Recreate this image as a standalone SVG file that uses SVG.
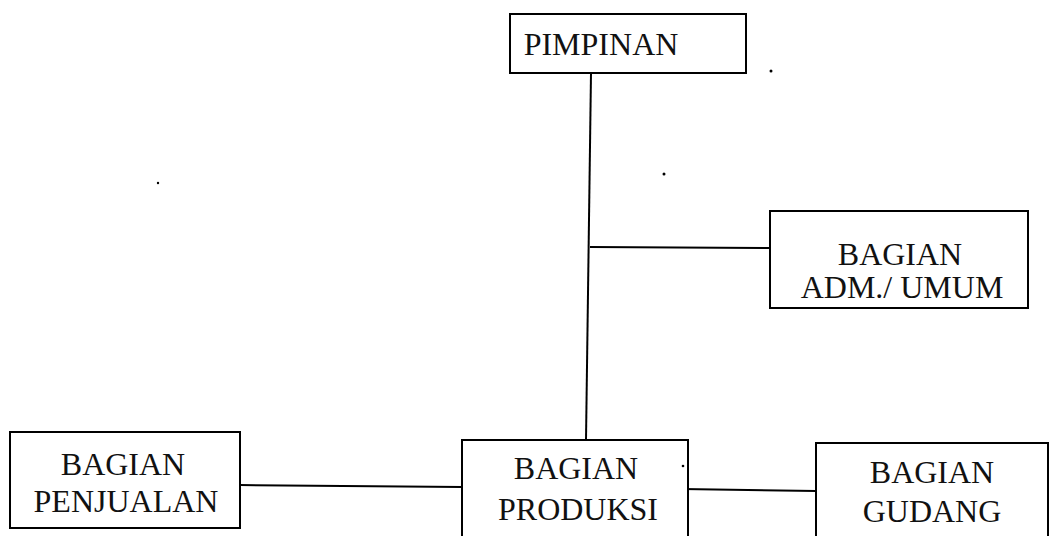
<svg xmlns="http://www.w3.org/2000/svg" width="1049" height="536" viewBox="0 0 1049 536">
<style>
.box{fill:#fff;stroke:#000;stroke-width:2}
.ln{stroke:#000;stroke-width:2;fill:none}
text{font-family:"Liberation Serif","Times New Roman",serif;font-size:32px;fill:#111;text-anchor:middle}
</style>
<rect width="1049" height="536" fill="#fff"/>
<g id="connectors">
<line class="ln" x1="591" y1="73" x2="586" y2="440"/>
<line class="ln" x1="590" y1="247" x2="770" y2="248"/>
<line class="ln" x1="240" y1="485" x2="462" y2="487"/>
<line class="ln" x1="682" y1="489" x2="816" y2="491"/>
</g>
<g id="pimpinan">
<rect class="box" x="510" y="14" width="236" height="59"/>
<text x="601" y="55">PIMPINAN</text>
</g>
<g id="adm">
<rect class="box" x="770" y="211" width="258" height="97"/>
<text x="900" y="265">BAGIAN</text>
<text x="902" y="298">ADM./ UMUM</text>
</g>
<g id="penjualan">
<rect class="box" x="10" y="432" width="230" height="96"/>
<text x="123" y="475">BAGIAN</text>
<text x="126" y="512">PENJUALAN</text>
</g>
<g id="produksi">
<rect class="box" x="462" y="440" width="226" height="110"/>
<text x="576" y="479">BAGIAN</text>
<text x="578" y="520">PRODUKSI</text>
</g>
<g id="gudang">
<rect class="box" x="816" y="443" width="232" height="110"/>
<text x="932" y="483">BAGIAN</text>
<text x="932" y="522">GUDANG</text>
</g>
<g id="specks" fill="#000">
<circle cx="771" cy="71" r="1.5"/>
<circle cx="664" cy="174" r="1.5"/>
<circle cx="158" cy="183" r="1.2"/>
<circle cx="683" cy="466" r="1.3"/>
</g>
</svg>
